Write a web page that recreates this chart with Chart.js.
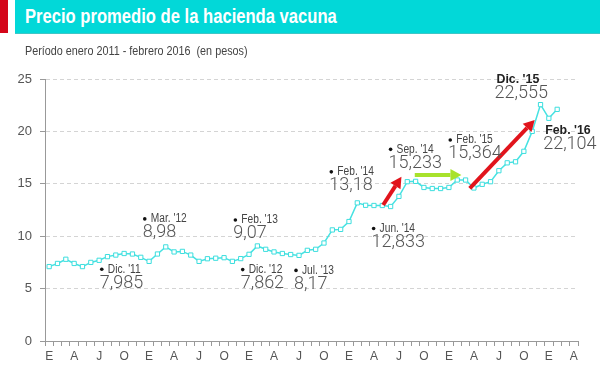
<!DOCTYPE html>
<html>
<head>
<meta charset="utf-8">
<script src="https://cdn.jsdelivr.net/npm/chart.js@4"></script>
<style>
  body { margin: 0; background: #fff; }
  #wrap { position: relative; width: 600px; height: 365px; overflow: hidden; }
  #chartBox { position: absolute; left: 0; top: 0; width: 600px; height: 365px; }
  .strip { position: absolute; left: 0; top: 0; width: 8px; height: 33px; background: #d4061a; }
  .bar { position: absolute; left: 15px; top: 0; width: 585px; height: 33px; background: #02d8d8; border-bottom: 1px solid #3fc6c6; }
  .bar span { position: absolute; left: 10px; top: 5px; color: #fff; font: bold 20px "Liberation Sans", Arial, sans-serif; white-space: nowrap; transform: scaleX(0.83); transform-origin: 0 0; }
  .sub { position: absolute; left: 25px; top: 44px; color: #444; font: 12px "Liberation Sans", Arial, sans-serif; white-space: pre; transform: scaleX(0.9); transform-origin: 0 0; }
</style>
</head>
<body>
<div id="wrap">
  <div id="chartBox"><canvas id="myChart"></canvas></div>
  <div class="strip"></div>
  <div class="bar"><span>Precio promedio de la hacienda vacuna</span></div>
  <div class="sub">Período enero 2011 - febrero 2016  (en pesos)</div>
</div>
<script>
// meses enero 2011 - abril 2016 (el eje llega hasta abril)
const monthLetters = ['E','F','M','A','M','J','J','A','S','O','N','D'];
const years = [2011, 2012, 2013, 2014, 2015, 2016];
const lastMonth2016 = 4;

// precio promedio mensual (pesos), enero 2011 - febrero 2016
const precio2011 = [7.1, 7.4, 7.8, 7.4, 7.1, 7.5, 7.7, 8.05, 8.2, 8.35, 8.3, 7.985];
const precio2012 = [7.6, 8.3, 8.98, 8.5, 8.55, 8.2, 7.6, 7.85, 7.9, 7.95, 7.6, 7.862];
const precio2013 = [8.27, 9.07, 8.75, 8.5, 8.35, 8.25, 8.17, 8.65, 8.75, 9.35, 10.6, 10.65];
const precio2014 = [11.4, 13.18, 12.95, 12.93, 12.93, 12.833, 13.8, 15.2, 15.233, 14.65, 14.55, 14.55];
const precio2015 = [14.65, 15.364, 15.36, 14.6, 14.95, 15.2, 16.25, 17.0, 17.1, 18.1, 20.0, 22.555];
const precio2016 = [21.25, 22.104];

const yTicksMax = 25;
const yStep = 5;

// notas: indice del mes, valor, rotulo
const notas = [
  {i: 11, v: 7.985, label: "Dic. '11", text: '7,985'},
  {i: 14, v: 8.98, label: "Mar. '12", text: '8,98'},
  {i: 23, v: 7.862, label: "Dic. '12", text: '7,862'},
  {i: 25, v: 9.07, label: "Feb. '13", text: '9,07'},
  {i: 30, v: 8.17, label: "Jul. '13", text: '8,17'},
  {i: 37, v: 13.18, label: "Feb. '14", text: '13,18'},
  {i: 41, v: 12.833, label: "Jun. '14", text: '12,833'},
  {i: 44, v: 15.233, label: "Sep. '14", text: '15,233'},
  {i: 49, v: 15.364, label: "Feb. '15", text: '15,364'},
  {i: 59, v: 22.555, label: "Dic. '15", text: '22,555', bold: true},
  {i: 61, v: 22.104, label: "Feb. '16", text: '22,104', bold: true}
];

var labels = [];
years.forEach((y) => {
  const n = y === 2016 ? lastMonth2016 : 12;
  for (let m = 0; m < n; m++) labels.push(monthLetters[m] + ' ' + y);
});
var precios = [].concat(precio2011, precio2012, precio2013, precio2014, precio2015, precio2016);

// offsets de los rotulos (px respecto del punto)
const notaPos = [
  [-39, 12], [-21, -28], [2, 11], [-22, -26], [-3, 15], [-26, -31],
  [-17, 22], [-25, -32], [-7, -40], [-44, -25], [-12, 21]
];

// flechas en coordenadas del grafico (indice, valor)
const flechas = [
  {from: [40.1, 12.98], to: [42.3, 15.68], color: '#e1141c'},
  {from: [43.9, 15.84], to: [49.5, 15.84], color: '#a8e22c'},
  {from: [50.5, 14.57], to: [58.3, 21.09], color: '#e1141c'}
];

function drawArrow(ctx, x1, y1, x2, y2, color) {
  const ang = Math.atan2(y2 - y1, x2 - x1);
  const head = 11, hw = 6;
  const bx = x2 - head * Math.cos(ang), by = y2 - head * Math.sin(ang);
  ctx.save();
  ctx.strokeStyle = color;
  ctx.fillStyle = color;
  ctx.lineWidth = 4;
  ctx.beginPath();
  ctx.moveTo(x1, y1);
  ctx.lineTo(bx, by);
  ctx.stroke();
  ctx.beginPath();
  ctx.moveTo(x2, y2);
  ctx.lineTo(bx + hw * Math.sin(ang), by - hw * Math.cos(ang));
  ctx.lineTo(bx - hw * Math.sin(ang), by + hw * Math.cos(ang));
  ctx.closePath();
  ctx.fill();
  ctx.restore();
}

function narrowText(ctx, text, x, y, sx) {
  ctx.save();
  ctx.translate(x, y);
  ctx.scale(sx, 1);
  ctx.fillText(text, 0, 0);
  ctx.restore();
}

const notasPlugin = {
  id: 'notas',
  afterDatasetsDraw(chart) {
    const ctx = chart.ctx;
    const xs = chart.scales.x, ys = chart.scales.y;
    flechas.forEach((f) => {
      drawArrow(ctx, xs.getPixelForValue(f.from[0]), ys.getPixelForValue(f.from[1]),
        xs.getPixelForValue(f.to[0]), ys.getPixelForValue(f.to[1]), f.color);
    });
    ctx.save();
    ctx.textBaseline = 'middle';
    ctx.textAlign = 'left';
    notas.forEach((n, k) => {
      const px = xs.getPixelForValue(n.i) + notaPos[k][0];
      const py = ys.getPixelForValue(n.v) + notaPos[k][1];
      if (n.bold) {
        ctx.fillStyle = '#222';
        ctx.font = 'bold 13px "Liberation Sans", Arial, sans-serif';
        narrowText(ctx, n.label, px, py, 0.95);
      } else {
        ctx.fillStyle = '#111';
        ctx.beginPath();
        ctx.arc(px, py, 1.8, 0, Math.PI * 2);
        ctx.fill();
        ctx.fillStyle = '#444';
        ctx.font = '12px "Liberation Sans", Arial, sans-serif';
        narrowText(ctx, n.label, px + 6, py, 0.85);
      }
      ctx.fillStyle = '#555';
      ctx.font = '300 18px Roboto, "Liberation Sans", Arial, sans-serif';
      ctx.fillText(n.text, px - 2, py + 14);
    });
    ctx.restore();
  }
};

var ctx = document.getElementById('myChart').getContext('2d');
var chart = new Chart(ctx, {
  type: 'line',
  data: {
    labels: labels,
    datasets: [{
      label: 'Precio',
      data: precios,
      borderColor: 'rgb(70, 226, 226)',
      backgroundColor: '#fff',
      borderWidth: 1.5,
      pointStyle: 'rect',
      pointRadius: 3,
      pointBorderWidth: 1,
      pointBackgroundColor: '#fff',
      pointBorderColor: 'rgb(60, 222, 222)',
      tension: 0
    }]
  },
  options: {
    responsive: true,
    maintainAspectRatio: false,
    animation: false,
    layout: { padding: { top: 79, right: 22, left: 0, bottom: 0 } },
    plugins: { legend: { display: false }, tooltip: { enabled: false } },
    scales: {
      x: {
        offset: true,
        afterFit: (s) => { s.height = 24; },
        grid: { display: true, drawOnChartArea: false, drawTicks: true, tickLength: 5, color: '#999', offset: true },
        border: { color: '#999', width: 1 },
        ticks: {
          autoSkip: false, maxRotation: 0, padding: 3, color: '#555',
          font: { size: 12, family: '"Liberation Sans", Arial, sans-serif' },
          callback: function(val, idx) { return idx % 3 === 0 ? labels[idx].charAt(0) : ''; }
        }
      },
      y: {
        min: 0, max: yTicksMax,
        afterFit: (s) => { s.width = 45; },
        grid: { color: '#d4d4d4', tickLength: 5, tickColor: '#999', lineWidth: 1 },
        border: { color: '#999', width: 1, dash: [4, 3] },
        ticks: {
          stepSize: yStep, padding: 8, color: '#555',
          font: { size: 13, family: '"Liberation Sans", Arial, sans-serif' }
        }
      }
    }
  },
  plugins: [notasPlugin]
});
</script>
</body>
</html>
